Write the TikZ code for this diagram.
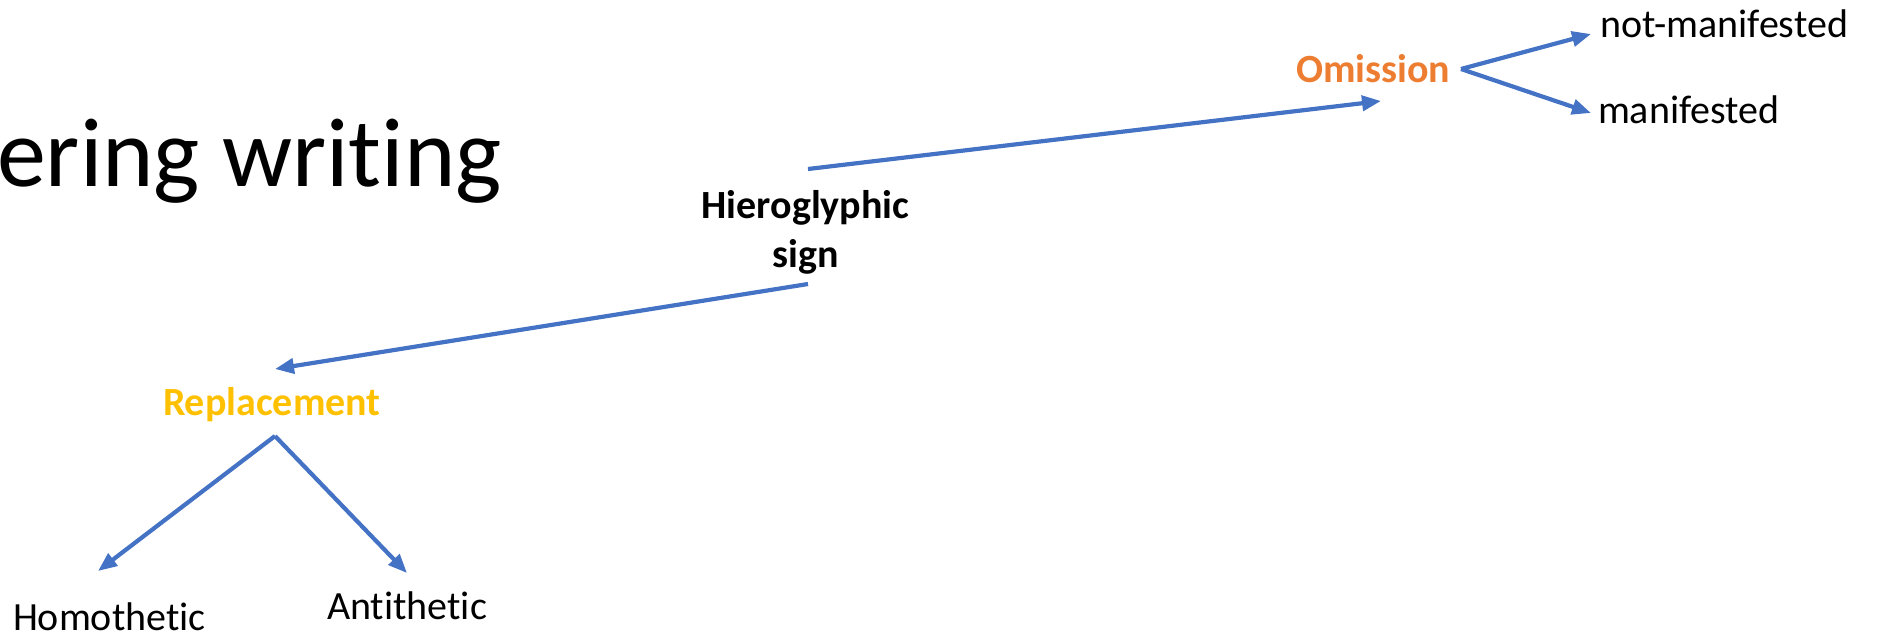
\documentclass[tikz,border=0pt]{standalone}
\usepackage{fontspec}
\setmainfont{Carlito}[Ligatures={NoCommon,NoRequired,NoContextual}]
\usetikzlibrary{arrows.meta}
\definecolor{arrowblue}{HTML}{4472C4}
\definecolor{omorange}{HTML}{ED7D31}
\definecolor{repgold}{HTML}{FFC000}
\begin{document}
\begin{tikzpicture}[x=0.5pt,y=-0.5pt,
  lbl/.style={inner sep=0pt,outer sep=0pt,anchor=base west,font=\fontsize{20pt}{25pt}\selectfont},
  boldlbl/.style={lbl,font=\fontsize{20pt}{25pt}\selectfont\bfseries},
  conn/.style={draw=arrowblue,line width=2.1pt,-{Triangle[length=9.5pt,width=7.5pt]}}]
\useasboundingbox (0,0) rectangle (1883,634);
\node[lbl,font=\fontsize{49pt}{59pt}\selectfont] (title) at (-3,186) {ering writing};
\node[boldlbl,text=omorange] (om) at (1296,82) {Omission};
\node[lbl] (notman) at (1600,37) {not-manifested};
\node[lbl] (man) at (1598,123) {manifested};
\node[boldlbl,anchor=base,align=center] (hiero) at (805.5,267) {Hieroglyphic\\[-0.5pt]sign};
\node[boldlbl,text=repgold] (rep) at (163,415) {Replacement};
\node[lbl] (homo) at (13,630) {Homothetic};
\node[lbl] (anti) at (327,619) {Antithetic};
% connector end points
\coordinate (hOut1) at (808,169);
\coordinate (omIn) at (1381,101);
\coordinate (hOut2) at (808,284);
\coordinate (repIn) at (275,369);
\coordinate (omOut) at (1461,69);
\coordinate (notmanIn) at (1591,34);
\coordinate (manIn) at (1591,113);
\coordinate (repOut) at (275,436);
\coordinate (homoIn) at (98,571);
\coordinate (antiIn) at (407,573);
\draw[conn] (hOut1) -- (omIn);
\draw[conn] (hOut2) -- (repIn);
\draw[conn] (omOut) -- (notmanIn);
\draw[conn] (omOut) -- (manIn);
\draw[conn] (repOut) -- (homoIn);
\draw[conn] (repOut) -- (antiIn);
\end{tikzpicture}
\end{document}
